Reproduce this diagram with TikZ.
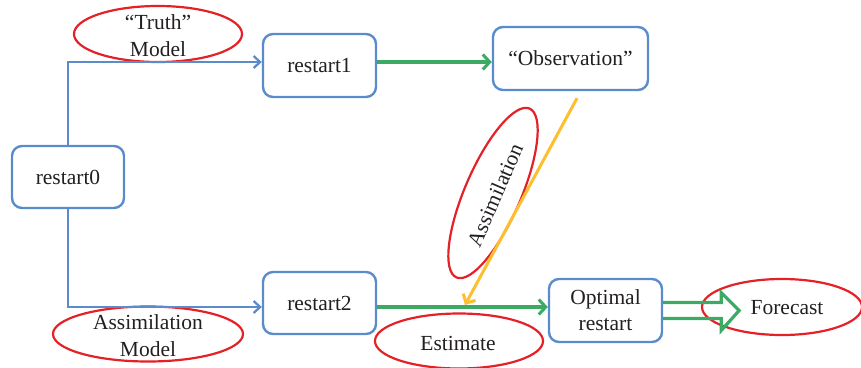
\documentclass[tikz,border=0pt]{standalone}
\usepackage{fontspec}
\setmainfont{Liberation Serif}
\usetikzlibrary{shapes.geometric,arrows.meta,calc}
\definecolor{boxblue}{HTML}{5A8CCB}
\definecolor{arrgreen}{HTML}{3BAA63}
\definecolor{arryellow}{HTML}{FDBF2D}
\definecolor{ellred}{HTML}{E42127}
\definecolor{txt}{HTML}{231F20}
\begin{document}
\begin{tikzpicture}[x=1pt,y=-1pt,
  every node/.style={text=txt,font=\rmfamily\fontsize{21.5}{27}\selectfont},
  stepbox/.style={draw=boxblue,line width=2.4pt,rounded corners=10pt,fill=white,inner sep=0pt,align=center},
  redell/.style={draw=ellred,line width=2.2pt,ellipse,inner sep=0pt},
  bluearrow/.style={draw=boxblue,line width=2.3pt,-{Straight Barb[length=6.5pt,width=12pt,line width=2.3pt]}},
  greenarrow/.style={draw=arrgreen,line width=3.5pt,-{Straight Barb[length=7pt,width=15pt,line width=3pt]}},
  yellowarrow/.style={draw=arryellow,line width=3pt,-{Straight Barb[length=7pt,width=14pt,line width=3pt]}}]
\useasboundingbox (0,0) rectangle (861,367);
% boxes
\node[stepbox,minimum width=112pt,minimum height=62pt] (r0) at (68,177) {restart0};
\node[stepbox,minimum width=113pt,minimum height=63pt] (r1) at (319.5,65.5) {restart1};
\node[stepbox,minimum width=155pt,minimum height=63pt] (obs) at (570.5,58.5) {“Observation”};
\node[stepbox,minimum width=113pt,minimum height=62pt] (r2) at (319.5,303) {restart2};
\node[stepbox,minimum width=113pt,minimum height=63pt] (opt) at (605.5,310.5) {Optimal\\[-1pt]restart};
% red ellipses
\node[redell,minimum width=168pt,minimum height=56pt] (truthE) at (158,34) {};
\node[align=center] (truthT) at (158,36) {“Truth”\\Model};
\node[redell,minimum width=190pt,minimum height=55pt] (assimME) at (148,334) {};
\node[align=center] (assimMT) at (148,336) {Assimilation\\Model};
\node[redell,minimum width=168pt,minimum height=55pt] (estE) at (459,341) {};
\node (estT) at (458,343) {Estimate};
\node[redell,minimum width=160pt,minimum height=56pt] (foreE) at (782,307) {};
\node (foreT) at (787,308) {Forecast};
\node[redell,rotate=66.6,minimum width=184pt,minimum height=56pt] (assimE) at (493,193) {};
\node[rotate=66.6] (assimT) at (495,195) {Assimilation};
% connectors
\draw[bluearrow] (r0.north) |- ($(r1.west)+(0,-3.5)$);
\draw[bluearrow] (r0.south) |- ($(r2.west)+(0,4)$);
\draw[greenarrow] ($(r1.east)+(0,-3.5)$) -- ($(obs.west)+(0,3.5)$);
\draw[greenarrow] ($(r2.east)+(0,4)$) -- ($(opt.west)+(0,-3.5)$);
\coordinate (yStart) at ($(obs.south)+(6.5,7)$);
\coordinate (yEnd) at (465,305);
\draw[yellowarrow] (yStart) -- (yEnd);
% hollow block arrow to Forecast
\draw[arrgreen,line width=3.2pt,line join=miter]
  ($(opt.east)+(0,-8)$) -- ++(58,0) -- ++(0,-10) -- ++(18,18) -- ++(-18,20) -- ++(0,-12) -- ++(-58,0);
\end{tikzpicture}
\end{document}
